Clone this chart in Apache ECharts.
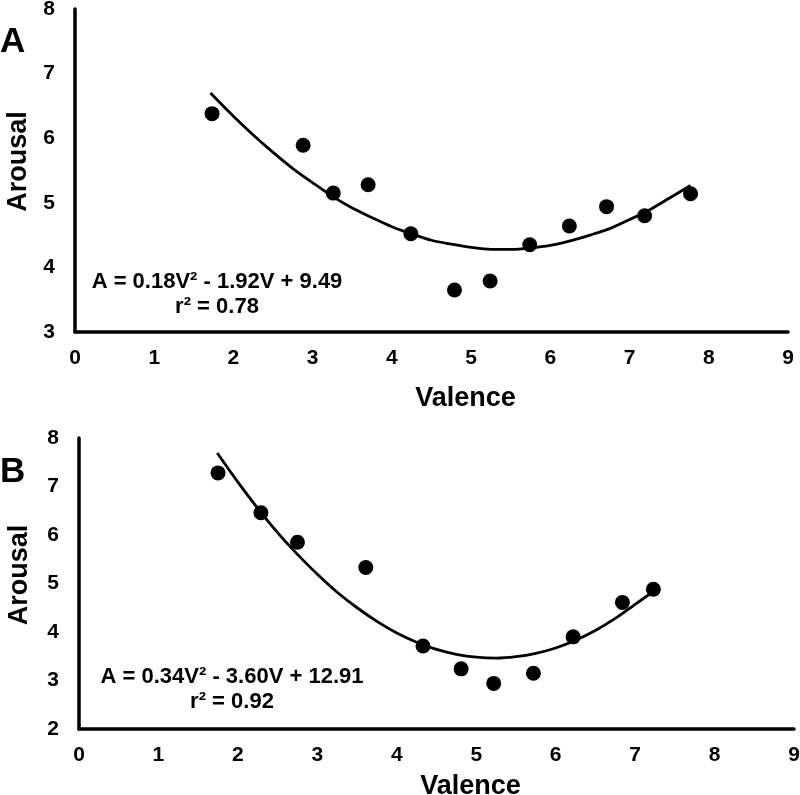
<!DOCTYPE html>
<html>
<head>
<meta charset="utf-8">
<script src="https://cdn.jsdelivr.net/npm/echarts@6/dist/echarts.min.js"></script>
<style>
html,body{margin:0;padding:0;background:#fff;}
#chart{width:800px;height:795px;}
</style>
</head>
<body>
<div id="chart"></div>
<script>
// ---- Data ----
var xTicks = [0, 1, 2, 3, 4, 5, 6, 7, 8, 9];
var yTicksA = [3, 4, 5, 6, 7, 8];
var yTicksB = [2, 3, 4, 5, 6, 7, 8];

var valenceA = [1.73, 2.88, 3.26, 3.70, 4.24, 4.79, 5.24, 5.74, 6.24, 6.71, 7.19, 7.77];
var arousalA = [6.38, 5.89, 5.15, 5.28, 4.52, 3.65, 3.79, 4.35, 4.64, 4.94, 4.80, 5.14];

var valenceB = [1.75, 2.29, 2.75, 3.61, 4.33, 4.81, 5.22, 5.72, 6.22, 6.84, 7.23];
var arousalB = [7.28, 6.46, 5.85, 5.33, 3.71, 3.24, 2.94, 3.15, 3.90, 4.61, 4.88];

// fitted curves as drawn in the picture
var fitAx = [1.71, 2.0, 2.25, 2.5, 2.75, 3.0, 3.25, 3.5, 3.75, 4.0, 4.25, 4.5, 4.75, 5.0, 5.25, 5.5, 5.75, 6.0, 6.25, 6.5, 6.75, 7.0, 7.25, 7.5, 7.77];
var fitAy = [6.70, 6.34, 6.05, 5.78, 5.53, 5.31, 5.10, 4.92, 4.77, 4.63, 4.52, 4.42, 4.36, 4.31, 4.28, 4.28, 4.30, 4.34, 4.41, 4.50, 4.60, 4.74, 4.89, 5.07, 5.27];
var fitBx = [1.74, 2.0, 2.25, 2.5, 2.75, 3.0, 3.25, 3.5, 3.75, 4.0, 4.25, 4.5, 4.75, 5.0, 5.25, 5.5, 5.75, 6.0, 6.25, 6.5, 6.75, 7.0, 7.2];
var fitBy = [7.69, 7.09, 6.55, 6.05, 5.60, 5.19, 4.82, 4.50, 4.22, 3.98, 3.79, 3.64, 3.54, 3.48, 3.46, 3.49, 3.56, 3.67, 3.83, 4.03, 4.28, 4.57, 4.80];

var panelLabels = ['A', 'B'];
var eqA = ['A = 0.18V\u00B2 - 1.92V + 9.49', 'r\u00B2 = 0.78'];
var eqB = ['A = 0.34V\u00B2 - 3.60V + 12.91', 'r\u00B2 = 0.92'];
var xName = 'Valence';
var yName = 'Arousal';

function pairs(xs, ys) { return xs.map(function (x, i) { return [x, ys[i]]; }); }

var FONT = '"Liberation Sans", Arial, sans-serif';
var axisLine = { show: true, lineStyle: { color: '#000', width: 3.5 } };

function xAxis(gi, nameGap) {
  return {
    type: 'value', gridIndex: gi, min: xTicks[0], max: xTicks[xTicks.length - 1], interval: 1,
    axisLine: axisLine, axisTick: { show: false }, splitLine: { show: false },
    axisLabel: { color: '#000', fontFamily: FONT, fontWeight: 'bold', fontSize: 21, margin: 16 },
    name: xName, nameLocation: 'middle', nameGap: nameGap,
    nameTextStyle: { color: '#000', fontFamily: FONT, fontWeight: 'bold', fontSize: 27, padding: [0, 0, 0, 68] }
  };
}
function yAxis(gi, ticks, nameGap, pad) {
  return {
    type: 'value', gridIndex: gi, min: ticks[0], max: ticks[ticks.length - 1], interval: 1,
    axisLine: axisLine, axisTick: { show: false }, splitLine: { show: false },
    axisLabel: { color: '#000', fontFamily: FONT, fontWeight: 'bold', fontSize: 21, margin: 20 },
    name: yName, nameLocation: 'middle', nameGap: nameGap,
    nameTextStyle: { color: '#000', fontFamily: FONT, fontWeight: 'bold', fontSize: 27, padding: pad }
  };
}

var chart = echarts.init(document.getElementById('chart'), null, { renderer: 'canvas' });
chart.setOption({
  backgroundColor: '#fff',
  animation: false,
  grid: [
    { left: 75, top: 9, width: 713, height: 323, containLabel: false, outerBoundsMode: 'none' },
    { left: 79, top: 438, width: 715, height: 291, containLabel: false, outerBoundsMode: 'none' }
  ],
  xAxis: [xAxis(0, 53), xAxis(1, 44)],
  yAxis: [yAxis(0, yTicksA, 43, [0, 0, 0, 18]), yAxis(1, yTicksB, 46, [0, 0, 0, 17])],
  series: [
    { type: 'line', xAxisIndex: 0, yAxisIndex: 0, data: pairs(fitAx, fitAy), smooth: 0.3, showSymbol: false,
      lineStyle: { color: '#000', width: 2.8 }, z: 2 },
    { type: 'scatter', xAxisIndex: 0, yAxisIndex: 0, data: pairs(valenceA, arousalA), symbolSize: 15,
      itemStyle: { color: '#000', opacity: 1 }, z: 3 },
    { type: 'line', xAxisIndex: 1, yAxisIndex: 1, data: pairs(fitBx, fitBy), smooth: 0.3, showSymbol: false,
      lineStyle: { color: '#000', width: 2.8 }, z: 2 },
    { type: 'scatter', xAxisIndex: 1, yAxisIndex: 1, data: pairs(valenceB, arousalB), symbolSize: 15,
      itemStyle: { color: '#000', opacity: 1 }, z: 3 }
  ],
  graphic: [
    { type: 'text', left: 0, top: 25, style: { text: panelLabels[0], fill: '#000', font: 'bold 35px ' + FONT } },
    { type: 'text', left: 0, top: 455, style: { text: panelLabels[1], fill: '#000', font: 'bold 35px ' + FONT } },
    { type: 'text', x: 217, y: 282, style: { text: eqA[0], fill: '#000', font: 'bold 22px ' + FONT, align: 'center', verticalAlign: 'middle' } },
    { type: 'text', x: 217, y: 307, style: { text: eqA[1], fill: '#000', font: 'bold 22px ' + FONT, align: 'center', verticalAlign: 'middle' } },
    { type: 'text', x: 232, y: 677, style: { text: eqB[0], fill: '#000', font: 'bold 22px ' + FONT, align: 'center', verticalAlign: 'middle' } },
    { type: 'text', x: 232, y: 702, style: { text: eqB[1], fill: '#000', font: 'bold 22px ' + FONT, align: 'center', verticalAlign: 'middle' } }
  ]
});
</script>
</body>
</html>
